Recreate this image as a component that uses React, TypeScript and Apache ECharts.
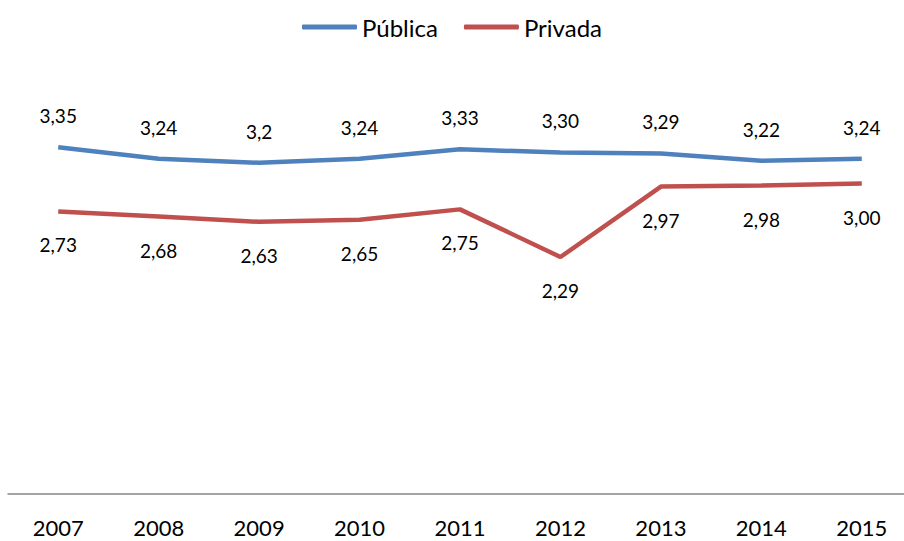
import React, { useEffect, useRef } from "react";
import * as echarts from "echarts";

const categories = ["2007", "2008", "2009", "2010", "2011", "2012", "2013", "2014", "2015"];
const publicaValues = [3.35, 3.24, 3.2, 3.24, 3.33, 3.3, 3.29, 3.22, 3.24];
const publicaLabels = ["3,35", "3,24", "3,2", "3,24", "3,33", "3,30", "3,29", "3,22", "3,24"];
const privadaValues = [2.73, 2.68, 2.63, 2.65, 2.75, 2.29, 2.97, 2.98, 3.0];
const privadaLabels = ["2,73", "2,68", "2,63", "2,65", "2,75", "2,29", "2,97", "2,98", "3,00"];

const FONT = "Lato";

export default function App() {
  const ref = useRef<HTMLDivElement>(null);
  useEffect(() => {
    document.body.style.margin = "0";
    const chart = echarts.init(ref.current!, undefined, { renderer: "svg" });
    chart.setOption({
      animation: false,
      backgroundColor: "#ffffff",
      textStyle: { fontFamily: FONT },
      legend: {
        top: 10,
        left: "center",
        itemWidth: 55,
        itemHeight: 5,
        itemGap: 26,
        icon: "roundRect",
        textStyle: { fontFamily: FONT, fontSize: 24, color: "#000" },
        data: ["Pública", "Privada"],
      },
      grid: { left: 8, width: 904, top: 80, bottom: 47, outerBoundsMode: "none", containLabel: false },
      xAxis: {
        type: "category",
        data: categories,
        boundaryGap: true,
        axisLine: { lineStyle: { color: "#868686", width: 1.5 } },
        axisTick: { show: false },
        axisLabel: { fontFamily: FONT, fontSize: 22, color: "#000", margin: 22 },
      },
      yAxis: {
        type: "value",
        min: 0,
        max: 4,
        show: false,
        splitLine: { show: false },
      },
      series: [
        {
          name: "Pública",
          type: "line",
          data: publicaValues,
          color: "#4F81BD",
          lineStyle: { width: 4.5, color: "#4F81BD" },
          showSymbol: true,
          symbol: "circle",
          symbolSize: 0,
          label: {
            show: true,
            position: "top",
            distance: 22,
            fontFamily: FONT,
            fontSize: 19,
            color: "#000",
            formatter: (p: any) => publicaLabels[p.dataIndex],
          },
        },
        {
          name: "Privada",
          type: "line",
          data: privadaValues,
          color: "#C0504D",
          lineStyle: { width: 4.5, color: "#C0504D" },
          showSymbol: true,
          symbol: "circle",
          symbolSize: 0,
          label: {
            show: true,
            position: "bottom",
            distance: 24,
            fontFamily: FONT,
            fontSize: 19,
            color: "#000",
            formatter: (p: any) => privadaLabels[p.dataIndex],
          },
        },
      ],
    });
    return () => chart.dispose();
  }, []);
  return <div ref={ref} style={{ width: 904, height: 541 }} />;
}
